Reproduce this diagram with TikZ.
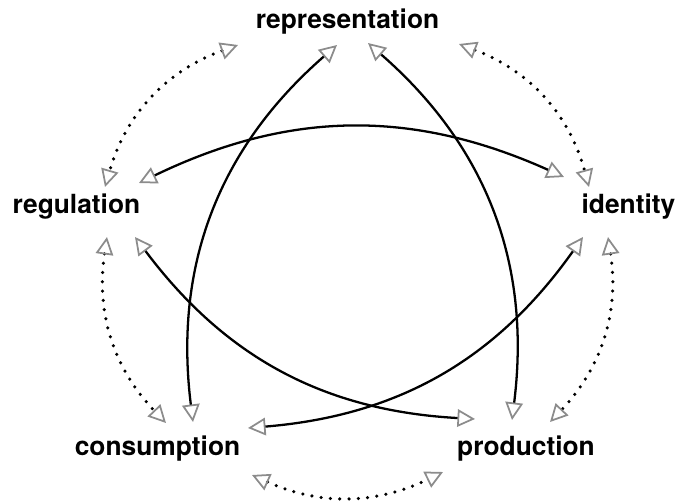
\documentclass[tikz,border=0pt]{standalone}
\usepackage{fontspec}
\setmainfont{TeX Gyre Heros}
\usetikzlibrary{arrows.meta}
\tikzstyle{word}=[font=\fontsize{15}{18}\selectfont\bfseries, inner sep=0pt, anchor=base]
\tikzstyle{solidlink}=[draw=black, line width=1.3pt, <->]
\tikzstyle{dotlink}=[draw=black, line width=2pt, line cap=round, dash pattern=on 0pt off 5.3pt, <->]
\tikzset{>={Triangle[open, length=10pt, width=10pt, line width=1pt, line cap=butt, color=black!45]}}
\begin{document}
\begin{tikzpicture}[x=0.02cm, y=-0.02cm]
		   \useasboundingbox (0,0) rectangle (678,500);
		   \begin{scope}
			   \node (rep) at (347.5, 29)[word] {representation};
			   \node (reg) at (76.5, 213)[word] {regulation};
			   \node (ident) at (628.5, 213)[word] {identity};
			   \node (cons) at (157.5, 455)[word] {consumption};
			   \node (prod) at (526, 455)[word] {production};
		   \end{scope}
		   % the star
		   \begin{scope}
			   \draw [solidlink] ([shift={(62.5,-30)}]reg.base) to[bend left=25] ([shift={(-64.5,-36)}]ident.base);
			   \draw [solidlink] ([shift={(-10.5,16)}]rep.base) to[bend right=28] ([shift={(35.5,-33)}]cons.base);
			   \draw [solidlink] ([shift={(20.5,14)}]rep.base) to[bend left=28] ([shift={(-14,-35)}]prod.base);
			   \draw [solidlink] ([shift={(-45.5,24)}]ident.base) to[bend left=25] ([shift={(90.5,-27)}]cons.base);
			   \draw [solidlink] ([shift={(58.5,24)}]reg.base) to[bend right=25] ([shift={(-51,-36)}]prod.base);
		   \end{scope}
		   % the ring
		   \begin{scope}
			   \draw [dotlink] ([shift={(-109.5,16)}]rep.base) to[bend right=27] ([shift={(28.5,-26)}]reg.base);
			   \draw [dotlink] ([shift={(111.5,15)}]rep.base) to[bend left=27] ([shift={(-39.5,-26)}]ident.base);
			   \draw [dotlink] ([shift={(-20.5,24)}]ident.base) to[bend left=26] ([shift={(24,-33)}]prod.base);
			   \draw [dotlink] ([shift={(30.5,24)}]reg.base) to[bend right=26] ([shift={(8.5,-32)}]cons.base);
			   \draw [dotlink] ([shift={(94.5,20)}]cons.base) to[bend right=25] ([shift={(-83,17)}]prod.base);
		   \end{scope}
	   \end{tikzpicture}
\end{document}
